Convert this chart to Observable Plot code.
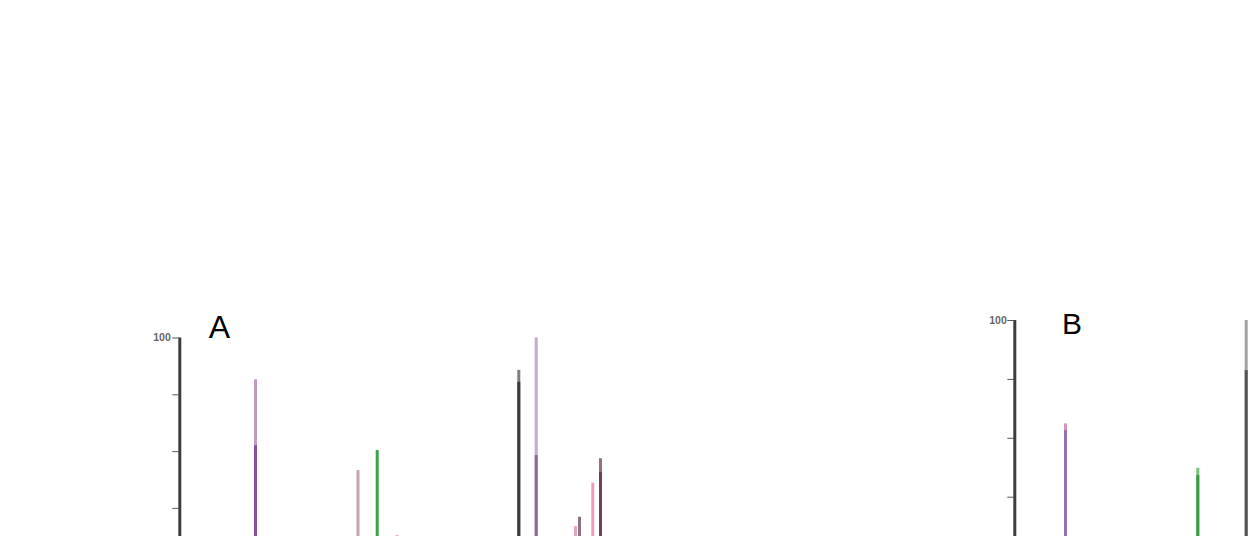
<!DOCTYPE html>
<html><head><meta charset="utf-8">
<script src="https://cdn.jsdelivr.net/npm/d3@7"></script>
<script src="https://cdn.jsdelivr.net/npm/@observablehq/plot@0.6"></script>
<style>
html,body{margin:0;padding:0;background:#fff;overflow:hidden;}
#wrap{position:relative;width:1254px;height:536px;overflow:hidden;}
#a,#b{position:absolute;top:0;}
#a{left:0;} #b{left:930px;}
</style></head><body><div id="wrap"><div id="a"></div><div id="b"></div></div>
<script>
// ---- data ----
const panelLabels = ["A", "B"];
const yTicks = [0, 20, 40, 60, 80, 100];
const yTickLabels = ["", "", "", "", "", "100"];

// Panel A peaks (position along x, relative intensity of the two overlaid traces)
const mzA    = [75.7, 178.2, 197.4, 217.4, 339.0, 356.4, 395.7, 399.7, 413.0, 420.7];
const upperA = [85.3, 53.3, 60.4, 30.5, 88.6, 100, 33.6, 36.9, 48.9, 57.5];
const lowerA = [62.1, null, null, null, 84.4, 58.6, null, null, null, 52.7];

// Panel B peaks
const mzB    = [50.7, 183.0, 231.4];
const upperB = [64.9, 49.8, 100];
const lowerB = [62.6, 47.4, 83.0];

// ---- styles ----
const upperColorsA = ["#bd9cbf", "#c7a3ab", "#3ea346", "#e6b4cc", "#7d7d7d", "#c4aad0", "#e2a6c4", "#8c7282", "#eb9cbc", "#9c6c84"];
const lowerColorsA = ["#8a4f9f", null, null, null, "#3b3b3b", "#8b6a9b", null, null, null, "#6e3f55"];
const upperColorsB = ["#cf98c8", "#77c27a", "#a3a3a3"];
const lowerColorsB = ["#9472b2", "#3b9a42", "#555555"];

const dataA = mzA.map((mz, i) => ({mz, upper: upperA[i], lower: lowerA[i], cu: upperColorsA[i], cl: lowerColorsA[i]}));
const dataB = mzB.map((mz, i) => ({mz, upper: upperB[i], lower: lowerB[i], cu: upperColorsB[i], cl: lowerColorsB[i]}));
const tickFmt = d => yTickLabels[yTicks.indexOf(d)];

function panel(data, label, cfg) {
  return Plot.plot({
    width: cfg.width, height: 700,
    marginLeft: cfg.ml, marginRight: 0, marginTop: cfg.mt, marginBottom: 700 - cfg.y0,
    style: {fontFamily: "Liberation Sans, Arial, sans-serif", color: "#444", background: "transparent", overflow: "visible"},
    x: {domain: [0, cfg.xmax], axis: null},
    y: {domain: [0, 100], axis: null},
    marks: [
      Plot.ruleX([0], {y1: 0, y2: 100, stroke: "#3d3d3d", strokeWidth: 3}),
      Plot.axisY({ticks: yTicks, tickSize: cfg.tickSize, tickPadding: cfg.tickPad, tickFormat: tickFmt, fontSize: cfg.fs, fontWeight: "bold", stroke: "#555", fill: "#666"}),
      Plot.ruleX(data, {x: "mz", y1: 0, y2: "upper", stroke: "cu", strokeWidth: 3}),
      Plot.ruleX(data.filter(d => d.lower != null), {x: "mz", y1: 0, y2: "lower", stroke: "cl", strokeWidth: 3}),
      Plot.text([label], {frameAnchor: "top-left", text: d => d, dx: cfg.ldx, dy: cfg.ldy, fontSize: cfg.lfs, textAnchor: "start", fill: "#000"})
    ]
  });
}

document.getElementById("a").append(panel(dataA, panelLabels[0], {
  width: 620, ml: 179.3, mt: 337.5, y0: 621.5, xmax: 440.7, tickSize: 7, tickPad: 2, fs: 10.5, ldx: 29, ldy: -22.9, lfs: 32
}));
document.getElementById("b").append(panel(dataB, panelLabels[1], {
  width: 324, ml: 84.3, mt: 320, y0: 614.5, xmax: 239.7, tickSize: 7, tickPad: 1, fs: 10.5, ldx: 47.3, ldy: -7.9, lfs: 30
}));
</script>
</body></html>
